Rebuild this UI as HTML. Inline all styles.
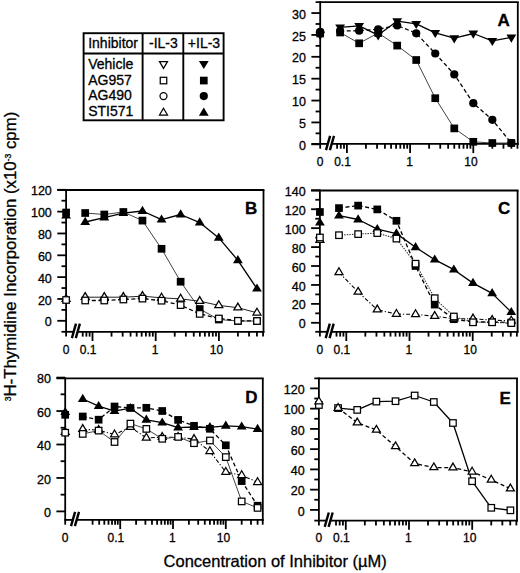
<!DOCTYPE html>
<html><head><meta charset="utf-8"><style>
html,body{margin:0;padding:0;background:#fff;}
svg{display:block;}
text{font-family:"Liberation Sans", sans-serif;fill:#000;stroke:#000;stroke-width:0.3px;}
</style></head><body>
<svg width="520" height="573" viewBox="0 0 520 573">
<rect width="520" height="573" fill="#fff"/>
<line x1="320.20" y1="1.20" x2="320.20" y2="148.70" stroke="#000" stroke-width="1.8" />
<line x1="315.60" y1="2.10" x2="518.70" y2="2.10" stroke="#000" stroke-width="1.8" />
<line x1="517.80" y1="2.10" x2="517.80" y2="144.80" stroke="#000" stroke-width="1.8" />
<line x1="311.40" y1="143.90" x2="327.80" y2="143.90" stroke="#000" stroke-width="1.8" />
<line x1="331.70" y1="143.90" x2="518.70" y2="143.90" stroke="#000" stroke-width="1.8" />
<line x1="311.40" y1="144.30" x2="320.20" y2="144.30" stroke="#000" stroke-width="1.8" />
<text x="305.90" y="149.90" font-size="12.5" text-anchor="end" font-weight="normal" >0</text>
<line x1="311.40" y1="122.43" x2="320.20" y2="122.43" stroke="#000" stroke-width="1.8" />
<text x="305.90" y="128.03" font-size="12.5" text-anchor="end" font-weight="normal" >5</text>
<line x1="311.40" y1="100.55" x2="320.20" y2="100.55" stroke="#000" stroke-width="1.8" />
<text x="305.90" y="106.15" font-size="12.5" text-anchor="end" font-weight="normal" >10</text>
<line x1="311.40" y1="78.68" x2="320.20" y2="78.68" stroke="#000" stroke-width="1.8" />
<text x="305.90" y="84.28" font-size="12.5" text-anchor="end" font-weight="normal" >15</text>
<line x1="311.40" y1="56.80" x2="320.20" y2="56.80" stroke="#000" stroke-width="1.8" />
<text x="305.90" y="62.40" font-size="12.5" text-anchor="end" font-weight="normal" >20</text>
<line x1="311.40" y1="34.93" x2="320.20" y2="34.93" stroke="#000" stroke-width="1.8" />
<text x="305.90" y="40.53" font-size="12.5" text-anchor="end" font-weight="normal" >25</text>
<line x1="311.40" y1="13.05" x2="320.20" y2="13.05" stroke="#000" stroke-width="1.8" />
<text x="305.90" y="18.65" font-size="12.5" text-anchor="end" font-weight="normal" >30</text>
<line x1="315.60" y1="133.36" x2="320.20" y2="133.36" stroke="#000" stroke-width="1.8" />
<line x1="315.60" y1="111.49" x2="320.20" y2="111.49" stroke="#000" stroke-width="1.8" />
<line x1="315.60" y1="89.61" x2="320.20" y2="89.61" stroke="#000" stroke-width="1.8" />
<line x1="315.60" y1="67.74" x2="320.20" y2="67.74" stroke="#000" stroke-width="1.8" />
<line x1="315.60" y1="45.86" x2="320.20" y2="45.86" stroke="#000" stroke-width="1.8" />
<line x1="315.60" y1="23.99" x2="320.20" y2="23.99" stroke="#000" stroke-width="1.8" />
<line x1="337.11" y1="143.90" x2="337.11" y2="148.70" stroke="#000" stroke-width="1.8" />
<line x1="340.78" y1="143.90" x2="340.78" y2="148.70" stroke="#000" stroke-width="1.8" />
<line x1="344.01" y1="143.90" x2="344.01" y2="148.70" stroke="#000" stroke-width="1.8" />
<line x1="346.90" y1="143.90" x2="346.90" y2="153.10" stroke="#000" stroke-width="1.8" />
<line x1="365.93" y1="143.90" x2="365.93" y2="148.70" stroke="#000" stroke-width="1.8" />
<line x1="377.05" y1="143.90" x2="377.05" y2="148.70" stroke="#000" stroke-width="1.8" />
<line x1="384.95" y1="143.90" x2="384.95" y2="148.70" stroke="#000" stroke-width="1.8" />
<line x1="391.07" y1="143.90" x2="391.07" y2="148.70" stroke="#000" stroke-width="1.8" />
<line x1="396.08" y1="143.90" x2="396.08" y2="148.70" stroke="#000" stroke-width="1.8" />
<line x1="400.31" y1="143.90" x2="400.31" y2="148.70" stroke="#000" stroke-width="1.8" />
<line x1="403.98" y1="143.90" x2="403.98" y2="148.70" stroke="#000" stroke-width="1.8" />
<line x1="407.21" y1="143.90" x2="407.21" y2="148.70" stroke="#000" stroke-width="1.8" />
<line x1="410.10" y1="143.90" x2="410.10" y2="153.10" stroke="#000" stroke-width="1.8" />
<line x1="429.13" y1="143.90" x2="429.13" y2="148.70" stroke="#000" stroke-width="1.8" />
<line x1="440.25" y1="143.90" x2="440.25" y2="148.70" stroke="#000" stroke-width="1.8" />
<line x1="448.15" y1="143.90" x2="448.15" y2="148.70" stroke="#000" stroke-width="1.8" />
<line x1="454.27" y1="143.90" x2="454.27" y2="148.70" stroke="#000" stroke-width="1.8" />
<line x1="459.28" y1="143.90" x2="459.28" y2="148.70" stroke="#000" stroke-width="1.8" />
<line x1="463.51" y1="143.90" x2="463.51" y2="148.70" stroke="#000" stroke-width="1.8" />
<line x1="467.18" y1="143.90" x2="467.18" y2="148.70" stroke="#000" stroke-width="1.8" />
<line x1="470.41" y1="143.90" x2="470.41" y2="148.70" stroke="#000" stroke-width="1.8" />
<line x1="473.30" y1="143.90" x2="473.30" y2="153.10" stroke="#000" stroke-width="1.8" />
<line x1="492.33" y1="143.90" x2="492.33" y2="148.70" stroke="#000" stroke-width="1.8" />
<line x1="503.45" y1="143.90" x2="503.45" y2="148.70" stroke="#000" stroke-width="1.8" />
<line x1="511.35" y1="143.90" x2="511.35" y2="148.70" stroke="#000" stroke-width="1.8" />
<line x1="517.47" y1="143.90" x2="517.47" y2="148.70" stroke="#000" stroke-width="1.8" />
<line x1="326.00" y1="150.20" x2="330.10" y2="135.80" stroke="#000" stroke-width="2.4" />
<line x1="329.90" y1="150.20" x2="334.00" y2="135.80" stroke="#000" stroke-width="2.4" />
<text x="320.20" y="165.70" font-size="12" text-anchor="middle" font-weight="normal" >0</text>
<text x="342.50" y="165.70" font-size="12" text-anchor="middle" font-weight="normal" >0.1</text>
<text x="409.50" y="165.70" font-size="12" text-anchor="middle" font-weight="normal" >1</text>
<text x="470.90" y="165.70" font-size="12" text-anchor="middle" font-weight="normal" >10</text>
<text x="497.60" y="25.80" font-size="17" text-anchor="start" font-weight="bold" >A</text>
<line x1="66.10" y1="189.10" x2="66.10" y2="336.60" stroke="#000" stroke-width="1.8" />
<line x1="57.30" y1="190.00" x2="264.40" y2="190.00" stroke="#000" stroke-width="1.8" />
<line x1="263.50" y1="190.00" x2="263.50" y2="332.70" stroke="#000" stroke-width="1.8" />
<line x1="61.50" y1="331.80" x2="73.70" y2="331.80" stroke="#000" stroke-width="1.8" />
<line x1="77.60" y1="331.80" x2="264.40" y2="331.80" stroke="#000" stroke-width="1.8" />
<line x1="57.30" y1="320.80" x2="66.10" y2="320.80" stroke="#000" stroke-width="1.8" />
<text x="51.80" y="326.40" font-size="12.5" text-anchor="end" font-weight="normal" >0</text>
<line x1="57.30" y1="298.97" x2="66.10" y2="298.97" stroke="#000" stroke-width="1.8" />
<text x="51.80" y="304.57" font-size="12.5" text-anchor="end" font-weight="normal" >20</text>
<line x1="57.30" y1="277.13" x2="66.10" y2="277.13" stroke="#000" stroke-width="1.8" />
<text x="51.80" y="282.73" font-size="12.5" text-anchor="end" font-weight="normal" >40</text>
<line x1="57.30" y1="255.30" x2="66.10" y2="255.30" stroke="#000" stroke-width="1.8" />
<text x="51.80" y="260.90" font-size="12.5" text-anchor="end" font-weight="normal" >60</text>
<line x1="57.30" y1="233.46" x2="66.10" y2="233.46" stroke="#000" stroke-width="1.8" />
<text x="51.80" y="239.06" font-size="12.5" text-anchor="end" font-weight="normal" >80</text>
<line x1="57.30" y1="211.63" x2="66.10" y2="211.63" stroke="#000" stroke-width="1.8" />
<text x="51.80" y="217.23" font-size="12.5" text-anchor="end" font-weight="normal" >100</text>
<line x1="57.30" y1="189.80" x2="66.10" y2="189.80" stroke="#000" stroke-width="1.8" />
<text x="51.80" y="195.40" font-size="12.5" text-anchor="end" font-weight="normal" >120</text>
<line x1="61.50" y1="309.88" x2="66.10" y2="309.88" stroke="#000" stroke-width="1.8" />
<line x1="61.50" y1="288.05" x2="66.10" y2="288.05" stroke="#000" stroke-width="1.8" />
<line x1="61.50" y1="266.22" x2="66.10" y2="266.22" stroke="#000" stroke-width="1.8" />
<line x1="61.50" y1="244.38" x2="66.10" y2="244.38" stroke="#000" stroke-width="1.8" />
<line x1="61.50" y1="222.55" x2="66.10" y2="222.55" stroke="#000" stroke-width="1.8" />
<line x1="61.50" y1="200.71" x2="66.10" y2="200.71" stroke="#000" stroke-width="1.8" />
<line x1="82.71" y1="331.80" x2="82.71" y2="336.60" stroke="#000" stroke-width="1.8" />
<line x1="86.38" y1="331.80" x2="86.38" y2="336.60" stroke="#000" stroke-width="1.8" />
<line x1="89.61" y1="331.80" x2="89.61" y2="336.60" stroke="#000" stroke-width="1.8" />
<line x1="92.50" y1="331.80" x2="92.50" y2="341.00" stroke="#000" stroke-width="1.8" />
<line x1="111.53" y1="331.80" x2="111.53" y2="336.60" stroke="#000" stroke-width="1.8" />
<line x1="122.65" y1="331.80" x2="122.65" y2="336.60" stroke="#000" stroke-width="1.8" />
<line x1="130.55" y1="331.80" x2="130.55" y2="336.60" stroke="#000" stroke-width="1.8" />
<line x1="136.67" y1="331.80" x2="136.67" y2="336.60" stroke="#000" stroke-width="1.8" />
<line x1="141.68" y1="331.80" x2="141.68" y2="336.60" stroke="#000" stroke-width="1.8" />
<line x1="145.91" y1="331.80" x2="145.91" y2="336.60" stroke="#000" stroke-width="1.8" />
<line x1="149.58" y1="331.80" x2="149.58" y2="336.60" stroke="#000" stroke-width="1.8" />
<line x1="152.81" y1="331.80" x2="152.81" y2="336.60" stroke="#000" stroke-width="1.8" />
<line x1="155.70" y1="331.80" x2="155.70" y2="341.00" stroke="#000" stroke-width="1.8" />
<line x1="174.73" y1="331.80" x2="174.73" y2="336.60" stroke="#000" stroke-width="1.8" />
<line x1="185.85" y1="331.80" x2="185.85" y2="336.60" stroke="#000" stroke-width="1.8" />
<line x1="193.75" y1="331.80" x2="193.75" y2="336.60" stroke="#000" stroke-width="1.8" />
<line x1="199.87" y1="331.80" x2="199.87" y2="336.60" stroke="#000" stroke-width="1.8" />
<line x1="204.88" y1="331.80" x2="204.88" y2="336.60" stroke="#000" stroke-width="1.8" />
<line x1="209.11" y1="331.80" x2="209.11" y2="336.60" stroke="#000" stroke-width="1.8" />
<line x1="212.78" y1="331.80" x2="212.78" y2="336.60" stroke="#000" stroke-width="1.8" />
<line x1="216.01" y1="331.80" x2="216.01" y2="336.60" stroke="#000" stroke-width="1.8" />
<line x1="218.90" y1="331.80" x2="218.90" y2="341.00" stroke="#000" stroke-width="1.8" />
<line x1="237.93" y1="331.80" x2="237.93" y2="336.60" stroke="#000" stroke-width="1.8" />
<line x1="249.05" y1="331.80" x2="249.05" y2="336.60" stroke="#000" stroke-width="1.8" />
<line x1="256.95" y1="331.80" x2="256.95" y2="336.60" stroke="#000" stroke-width="1.8" />
<line x1="263.07" y1="331.80" x2="263.07" y2="336.60" stroke="#000" stroke-width="1.8" />
<line x1="71.90" y1="338.10" x2="76.00" y2="323.70" stroke="#000" stroke-width="2.4" />
<line x1="75.80" y1="338.10" x2="79.90" y2="323.70" stroke="#000" stroke-width="2.4" />
<text x="66.10" y="353.60" font-size="12" text-anchor="middle" font-weight="normal" >0</text>
<text x="88.10" y="353.60" font-size="12" text-anchor="middle" font-weight="normal" >0.1</text>
<text x="155.10" y="353.60" font-size="12" text-anchor="middle" font-weight="normal" >1</text>
<text x="216.50" y="353.60" font-size="12" text-anchor="middle" font-weight="normal" >10</text>
<text x="245.00" y="214.20" font-size="17" text-anchor="start" font-weight="bold" >B</text>
<line x1="319.90" y1="189.60" x2="319.90" y2="336.60" stroke="#000" stroke-width="1.8" />
<line x1="311.10" y1="190.50" x2="518.50" y2="190.50" stroke="#000" stroke-width="1.8" />
<line x1="517.60" y1="190.50" x2="517.60" y2="332.70" stroke="#000" stroke-width="1.8" />
<line x1="315.30" y1="331.80" x2="327.50" y2="331.80" stroke="#000" stroke-width="1.8" />
<line x1="331.40" y1="331.80" x2="518.50" y2="331.80" stroke="#000" stroke-width="1.8" />
<line x1="311.10" y1="322.80" x2="319.90" y2="322.80" stroke="#000" stroke-width="1.8" />
<text x="305.60" y="328.40" font-size="12.5" text-anchor="end" font-weight="normal" >0</text>
<line x1="311.10" y1="303.87" x2="319.90" y2="303.87" stroke="#000" stroke-width="1.8" />
<text x="305.60" y="309.47" font-size="12.5" text-anchor="end" font-weight="normal" >20</text>
<line x1="311.10" y1="284.94" x2="319.90" y2="284.94" stroke="#000" stroke-width="1.8" />
<text x="305.60" y="290.54" font-size="12.5" text-anchor="end" font-weight="normal" >40</text>
<line x1="311.10" y1="266.02" x2="319.90" y2="266.02" stroke="#000" stroke-width="1.8" />
<text x="305.60" y="271.62" font-size="12.5" text-anchor="end" font-weight="normal" >60</text>
<line x1="311.10" y1="247.09" x2="319.90" y2="247.09" stroke="#000" stroke-width="1.8" />
<text x="305.60" y="252.69" font-size="12.5" text-anchor="end" font-weight="normal" >80</text>
<line x1="311.10" y1="228.16" x2="319.90" y2="228.16" stroke="#000" stroke-width="1.8" />
<text x="305.60" y="233.76" font-size="12.5" text-anchor="end" font-weight="normal" >100</text>
<line x1="311.10" y1="209.23" x2="319.90" y2="209.23" stroke="#000" stroke-width="1.8" />
<text x="305.60" y="214.83" font-size="12.5" text-anchor="end" font-weight="normal" >120</text>
<line x1="311.10" y1="190.30" x2="319.90" y2="190.30" stroke="#000" stroke-width="1.8" />
<text x="305.60" y="195.90" font-size="12.5" text-anchor="end" font-weight="normal" >140</text>
<line x1="315.30" y1="313.34" x2="319.90" y2="313.34" stroke="#000" stroke-width="1.8" />
<line x1="315.30" y1="294.41" x2="319.90" y2="294.41" stroke="#000" stroke-width="1.8" />
<line x1="315.30" y1="275.48" x2="319.90" y2="275.48" stroke="#000" stroke-width="1.8" />
<line x1="315.30" y1="256.55" x2="319.90" y2="256.55" stroke="#000" stroke-width="1.8" />
<line x1="315.30" y1="237.62" x2="319.90" y2="237.62" stroke="#000" stroke-width="1.8" />
<line x1="315.30" y1="218.70" x2="319.90" y2="218.70" stroke="#000" stroke-width="1.8" />
<line x1="315.30" y1="199.77" x2="319.90" y2="199.77" stroke="#000" stroke-width="1.8" />
<line x1="336.51" y1="331.80" x2="336.51" y2="336.60" stroke="#000" stroke-width="1.8" />
<line x1="340.18" y1="331.80" x2="340.18" y2="336.60" stroke="#000" stroke-width="1.8" />
<line x1="343.41" y1="331.80" x2="343.41" y2="336.60" stroke="#000" stroke-width="1.8" />
<line x1="346.30" y1="331.80" x2="346.30" y2="341.00" stroke="#000" stroke-width="1.8" />
<line x1="365.33" y1="331.80" x2="365.33" y2="336.60" stroke="#000" stroke-width="1.8" />
<line x1="376.45" y1="331.80" x2="376.45" y2="336.60" stroke="#000" stroke-width="1.8" />
<line x1="384.35" y1="331.80" x2="384.35" y2="336.60" stroke="#000" stroke-width="1.8" />
<line x1="390.47" y1="331.80" x2="390.47" y2="336.60" stroke="#000" stroke-width="1.8" />
<line x1="395.48" y1="331.80" x2="395.48" y2="336.60" stroke="#000" stroke-width="1.8" />
<line x1="399.71" y1="331.80" x2="399.71" y2="336.60" stroke="#000" stroke-width="1.8" />
<line x1="403.38" y1="331.80" x2="403.38" y2="336.60" stroke="#000" stroke-width="1.8" />
<line x1="406.61" y1="331.80" x2="406.61" y2="336.60" stroke="#000" stroke-width="1.8" />
<line x1="409.50" y1="331.80" x2="409.50" y2="341.00" stroke="#000" stroke-width="1.8" />
<line x1="428.53" y1="331.80" x2="428.53" y2="336.60" stroke="#000" stroke-width="1.8" />
<line x1="439.65" y1="331.80" x2="439.65" y2="336.60" stroke="#000" stroke-width="1.8" />
<line x1="447.55" y1="331.80" x2="447.55" y2="336.60" stroke="#000" stroke-width="1.8" />
<line x1="453.67" y1="331.80" x2="453.67" y2="336.60" stroke="#000" stroke-width="1.8" />
<line x1="458.68" y1="331.80" x2="458.68" y2="336.60" stroke="#000" stroke-width="1.8" />
<line x1="462.91" y1="331.80" x2="462.91" y2="336.60" stroke="#000" stroke-width="1.8" />
<line x1="466.58" y1="331.80" x2="466.58" y2="336.60" stroke="#000" stroke-width="1.8" />
<line x1="469.81" y1="331.80" x2="469.81" y2="336.60" stroke="#000" stroke-width="1.8" />
<line x1="472.70" y1="331.80" x2="472.70" y2="341.00" stroke="#000" stroke-width="1.8" />
<line x1="491.73" y1="331.80" x2="491.73" y2="336.60" stroke="#000" stroke-width="1.8" />
<line x1="502.85" y1="331.80" x2="502.85" y2="336.60" stroke="#000" stroke-width="1.8" />
<line x1="510.75" y1="331.80" x2="510.75" y2="336.60" stroke="#000" stroke-width="1.8" />
<line x1="516.87" y1="331.80" x2="516.87" y2="336.60" stroke="#000" stroke-width="1.8" />
<line x1="325.70" y1="338.10" x2="329.80" y2="323.70" stroke="#000" stroke-width="2.4" />
<line x1="329.60" y1="338.10" x2="333.70" y2="323.70" stroke="#000" stroke-width="2.4" />
<text x="319.90" y="353.60" font-size="12" text-anchor="middle" font-weight="normal" >0</text>
<text x="341.90" y="353.60" font-size="12" text-anchor="middle" font-weight="normal" >0.1</text>
<text x="408.90" y="353.60" font-size="12" text-anchor="middle" font-weight="normal" >1</text>
<text x="470.30" y="353.60" font-size="12" text-anchor="middle" font-weight="normal" >10</text>
<text x="498.00" y="214.20" font-size="17" text-anchor="start" font-weight="bold" >C</text>
<line x1="65.20" y1="377.40" x2="65.20" y2="524.70" stroke="#000" stroke-width="1.8" />
<line x1="56.40" y1="378.30" x2="263.70" y2="378.30" stroke="#000" stroke-width="1.8" />
<line x1="262.80" y1="378.30" x2="262.80" y2="520.80" stroke="#000" stroke-width="1.8" />
<line x1="64.30" y1="519.90" x2="72.80" y2="519.90" stroke="#000" stroke-width="1.8" />
<line x1="76.70" y1="519.90" x2="263.70" y2="519.90" stroke="#000" stroke-width="1.8" />
<line x1="56.40" y1="511.40" x2="65.20" y2="511.40" stroke="#000" stroke-width="1.8" />
<text x="50.90" y="517.00" font-size="12.5" text-anchor="end" font-weight="normal" >0</text>
<line x1="56.40" y1="477.95" x2="65.20" y2="477.95" stroke="#000" stroke-width="1.8" />
<text x="50.90" y="483.55" font-size="12.5" text-anchor="end" font-weight="normal" >20</text>
<line x1="56.40" y1="444.50" x2="65.20" y2="444.50" stroke="#000" stroke-width="1.8" />
<text x="50.90" y="450.10" font-size="12.5" text-anchor="end" font-weight="normal" >40</text>
<line x1="56.40" y1="411.05" x2="65.20" y2="411.05" stroke="#000" stroke-width="1.8" />
<text x="50.90" y="416.65" font-size="12.5" text-anchor="end" font-weight="normal" >60</text>
<line x1="56.40" y1="377.60" x2="65.20" y2="377.60" stroke="#000" stroke-width="1.8" />
<text x="50.90" y="383.20" font-size="12.5" text-anchor="end" font-weight="normal" >80</text>
<line x1="60.60" y1="494.67" x2="65.20" y2="494.67" stroke="#000" stroke-width="1.8" />
<line x1="60.60" y1="461.22" x2="65.20" y2="461.22" stroke="#000" stroke-width="1.8" />
<line x1="60.60" y1="427.77" x2="65.20" y2="427.77" stroke="#000" stroke-width="1.8" />
<line x1="60.60" y1="394.32" x2="65.20" y2="394.32" stroke="#000" stroke-width="1.8" />
<line x1="92.59" y1="519.90" x2="92.59" y2="524.70" stroke="#000" stroke-width="1.8" />
<line x1="99.19" y1="519.90" x2="99.19" y2="524.70" stroke="#000" stroke-width="1.8" />
<line x1="104.31" y1="519.90" x2="104.31" y2="524.70" stroke="#000" stroke-width="1.8" />
<line x1="108.49" y1="519.90" x2="108.49" y2="524.70" stroke="#000" stroke-width="1.8" />
<line x1="112.02" y1="519.90" x2="112.02" y2="524.70" stroke="#000" stroke-width="1.8" />
<line x1="115.08" y1="519.90" x2="115.08" y2="524.70" stroke="#000" stroke-width="1.8" />
<line x1="117.78" y1="519.90" x2="117.78" y2="524.70" stroke="#000" stroke-width="1.8" />
<line x1="120.20" y1="519.90" x2="120.20" y2="529.10" stroke="#000" stroke-width="1.8" />
<line x1="136.09" y1="519.90" x2="136.09" y2="524.70" stroke="#000" stroke-width="1.8" />
<line x1="145.39" y1="519.90" x2="145.39" y2="524.70" stroke="#000" stroke-width="1.8" />
<line x1="151.99" y1="519.90" x2="151.99" y2="524.70" stroke="#000" stroke-width="1.8" />
<line x1="157.11" y1="519.90" x2="157.11" y2="524.70" stroke="#000" stroke-width="1.8" />
<line x1="161.29" y1="519.90" x2="161.29" y2="524.70" stroke="#000" stroke-width="1.8" />
<line x1="164.82" y1="519.90" x2="164.82" y2="524.70" stroke="#000" stroke-width="1.8" />
<line x1="167.88" y1="519.90" x2="167.88" y2="524.70" stroke="#000" stroke-width="1.8" />
<line x1="170.58" y1="519.90" x2="170.58" y2="524.70" stroke="#000" stroke-width="1.8" />
<line x1="173.00" y1="519.90" x2="173.00" y2="529.10" stroke="#000" stroke-width="1.8" />
<line x1="188.89" y1="519.90" x2="188.89" y2="524.70" stroke="#000" stroke-width="1.8" />
<line x1="198.19" y1="519.90" x2="198.19" y2="524.70" stroke="#000" stroke-width="1.8" />
<line x1="204.79" y1="519.90" x2="204.79" y2="524.70" stroke="#000" stroke-width="1.8" />
<line x1="209.91" y1="519.90" x2="209.91" y2="524.70" stroke="#000" stroke-width="1.8" />
<line x1="214.09" y1="519.90" x2="214.09" y2="524.70" stroke="#000" stroke-width="1.8" />
<line x1="217.62" y1="519.90" x2="217.62" y2="524.70" stroke="#000" stroke-width="1.8" />
<line x1="220.68" y1="519.90" x2="220.68" y2="524.70" stroke="#000" stroke-width="1.8" />
<line x1="223.38" y1="519.90" x2="223.38" y2="524.70" stroke="#000" stroke-width="1.8" />
<line x1="225.80" y1="519.90" x2="225.80" y2="529.10" stroke="#000" stroke-width="1.8" />
<line x1="241.69" y1="519.90" x2="241.69" y2="524.70" stroke="#000" stroke-width="1.8" />
<line x1="250.99" y1="519.90" x2="250.99" y2="524.70" stroke="#000" stroke-width="1.8" />
<line x1="257.59" y1="519.90" x2="257.59" y2="524.70" stroke="#000" stroke-width="1.8" />
<line x1="262.71" y1="519.90" x2="262.71" y2="524.70" stroke="#000" stroke-width="1.8" />
<line x1="71.00" y1="526.20" x2="75.10" y2="511.80" stroke="#000" stroke-width="2.4" />
<line x1="74.90" y1="526.20" x2="79.00" y2="511.80" stroke="#000" stroke-width="2.4" />
<text x="65.20" y="541.70" font-size="12" text-anchor="middle" font-weight="normal" >0</text>
<text x="115.80" y="541.70" font-size="12" text-anchor="middle" font-weight="normal" >0.1</text>
<text x="172.40" y="541.70" font-size="12" text-anchor="middle" font-weight="normal" >1</text>
<text x="223.40" y="541.70" font-size="12" text-anchor="middle" font-weight="normal" >10</text>
<text x="245.30" y="403.10" font-size="17" text-anchor="start" font-weight="bold" >D</text>
<line x1="318.90" y1="377.40" x2="318.90" y2="525.40" stroke="#000" stroke-width="1.8" />
<line x1="314.30" y1="378.30" x2="517.90" y2="378.30" stroke="#000" stroke-width="1.8" />
<line x1="517.00" y1="378.30" x2="517.00" y2="521.50" stroke="#000" stroke-width="1.8" />
<line x1="314.30" y1="520.60" x2="326.50" y2="520.60" stroke="#000" stroke-width="1.8" />
<line x1="330.40" y1="520.60" x2="517.90" y2="520.60" stroke="#000" stroke-width="1.8" />
<line x1="310.10" y1="509.90" x2="318.90" y2="509.90" stroke="#000" stroke-width="1.8" />
<text x="304.60" y="515.50" font-size="12.5" text-anchor="end" font-weight="normal" >0</text>
<line x1="310.10" y1="489.65" x2="318.90" y2="489.65" stroke="#000" stroke-width="1.8" />
<text x="304.60" y="495.25" font-size="12.5" text-anchor="end" font-weight="normal" >20</text>
<line x1="310.10" y1="469.40" x2="318.90" y2="469.40" stroke="#000" stroke-width="1.8" />
<text x="304.60" y="475.00" font-size="12.5" text-anchor="end" font-weight="normal" >40</text>
<line x1="310.10" y1="449.15" x2="318.90" y2="449.15" stroke="#000" stroke-width="1.8" />
<text x="304.60" y="454.75" font-size="12.5" text-anchor="end" font-weight="normal" >60</text>
<line x1="310.10" y1="428.90" x2="318.90" y2="428.90" stroke="#000" stroke-width="1.8" />
<text x="304.60" y="434.50" font-size="12.5" text-anchor="end" font-weight="normal" >80</text>
<line x1="310.10" y1="408.65" x2="318.90" y2="408.65" stroke="#000" stroke-width="1.8" />
<text x="304.60" y="414.25" font-size="12.5" text-anchor="end" font-weight="normal" >100</text>
<line x1="310.10" y1="388.40" x2="318.90" y2="388.40" stroke="#000" stroke-width="1.8" />
<text x="304.60" y="394.00" font-size="12.5" text-anchor="end" font-weight="normal" >120</text>
<line x1="314.30" y1="499.77" x2="318.90" y2="499.77" stroke="#000" stroke-width="1.8" />
<line x1="314.30" y1="479.52" x2="318.90" y2="479.52" stroke="#000" stroke-width="1.8" />
<line x1="314.30" y1="459.27" x2="318.90" y2="459.27" stroke="#000" stroke-width="1.8" />
<line x1="314.30" y1="439.02" x2="318.90" y2="439.02" stroke="#000" stroke-width="1.8" />
<line x1="314.30" y1="418.77" x2="318.90" y2="418.77" stroke="#000" stroke-width="1.8" />
<line x1="314.30" y1="398.52" x2="318.90" y2="398.52" stroke="#000" stroke-width="1.8" />
<line x1="336.01" y1="520.60" x2="336.01" y2="525.40" stroke="#000" stroke-width="1.8" />
<line x1="339.68" y1="520.60" x2="339.68" y2="525.40" stroke="#000" stroke-width="1.8" />
<line x1="342.91" y1="520.60" x2="342.91" y2="525.40" stroke="#000" stroke-width="1.8" />
<line x1="345.80" y1="520.60" x2="345.80" y2="529.80" stroke="#000" stroke-width="1.8" />
<line x1="364.83" y1="520.60" x2="364.83" y2="525.40" stroke="#000" stroke-width="1.8" />
<line x1="375.95" y1="520.60" x2="375.95" y2="525.40" stroke="#000" stroke-width="1.8" />
<line x1="383.85" y1="520.60" x2="383.85" y2="525.40" stroke="#000" stroke-width="1.8" />
<line x1="389.97" y1="520.60" x2="389.97" y2="525.40" stroke="#000" stroke-width="1.8" />
<line x1="394.98" y1="520.60" x2="394.98" y2="525.40" stroke="#000" stroke-width="1.8" />
<line x1="399.21" y1="520.60" x2="399.21" y2="525.40" stroke="#000" stroke-width="1.8" />
<line x1="402.88" y1="520.60" x2="402.88" y2="525.40" stroke="#000" stroke-width="1.8" />
<line x1="406.11" y1="520.60" x2="406.11" y2="525.40" stroke="#000" stroke-width="1.8" />
<line x1="409.00" y1="520.60" x2="409.00" y2="529.80" stroke="#000" stroke-width="1.8" />
<line x1="428.03" y1="520.60" x2="428.03" y2="525.40" stroke="#000" stroke-width="1.8" />
<line x1="439.15" y1="520.60" x2="439.15" y2="525.40" stroke="#000" stroke-width="1.8" />
<line x1="447.05" y1="520.60" x2="447.05" y2="525.40" stroke="#000" stroke-width="1.8" />
<line x1="453.17" y1="520.60" x2="453.17" y2="525.40" stroke="#000" stroke-width="1.8" />
<line x1="458.18" y1="520.60" x2="458.18" y2="525.40" stroke="#000" stroke-width="1.8" />
<line x1="462.41" y1="520.60" x2="462.41" y2="525.40" stroke="#000" stroke-width="1.8" />
<line x1="466.08" y1="520.60" x2="466.08" y2="525.40" stroke="#000" stroke-width="1.8" />
<line x1="469.31" y1="520.60" x2="469.31" y2="525.40" stroke="#000" stroke-width="1.8" />
<line x1="472.20" y1="520.60" x2="472.20" y2="529.80" stroke="#000" stroke-width="1.8" />
<line x1="491.23" y1="520.60" x2="491.23" y2="525.40" stroke="#000" stroke-width="1.8" />
<line x1="502.35" y1="520.60" x2="502.35" y2="525.40" stroke="#000" stroke-width="1.8" />
<line x1="510.25" y1="520.60" x2="510.25" y2="525.40" stroke="#000" stroke-width="1.8" />
<line x1="516.37" y1="520.60" x2="516.37" y2="525.40" stroke="#000" stroke-width="1.8" />
<line x1="324.70" y1="526.90" x2="328.80" y2="512.50" stroke="#000" stroke-width="2.4" />
<line x1="328.60" y1="526.90" x2="332.70" y2="512.50" stroke="#000" stroke-width="2.4" />
<text x="318.90" y="542.40" font-size="12" text-anchor="middle" font-weight="normal" >0</text>
<text x="341.40" y="542.40" font-size="12" text-anchor="middle" font-weight="normal" >0.1</text>
<text x="408.40" y="542.40" font-size="12" text-anchor="middle" font-weight="normal" >1</text>
<text x="469.80" y="542.40" font-size="12" text-anchor="middle" font-weight="normal" >10</text>
<text x="499.50" y="404.20" font-size="17" text-anchor="start" font-weight="bold" >E</text>
<polyline points="340.12,27.30 359.15,25.80 378.17,35.10 397.20,21.10 416.22,23.80 435.25,32.80 454.27,38.10 473.30,33.50 492.33,40.80 511.35,37.40" fill="none" stroke="#000" stroke-width="1.3" stroke-linejoin="round"/>
<polyline points="340.12,32.50 359.15,43.30 378.17,33.00 397.20,45.60 416.22,60.00 435.25,98.20 454.27,128.40 473.30,141.80 492.33,143.00 511.35,143.00" fill="none" stroke="#444" stroke-width="1.0" stroke-linejoin="round"/>
<polyline points="340.12,31.00 359.15,30.70 378.17,29.30 397.20,25.50 416.22,33.30 435.25,53.50 454.27,74.40 473.30,103.20 492.33,119.80 511.35,143.00" fill="none" stroke="#000" stroke-width="1.3" stroke-dasharray="4,2.6" stroke-linejoin="round"/>
<polyline points="85.20,222.00 104.29,217.70 123.37,213.20 142.46,211.00 161.54,219.70 180.63,214.50 199.71,222.60 218.80,237.90 237.89,260.30 256.97,288.70" fill="none" stroke="#000" stroke-width="1.3" stroke-linejoin="round"/>
<polyline points="85.20,213.00 104.29,214.50 123.37,212.00 142.46,220.60 161.54,248.80 180.63,281.70 199.71,309.00 218.80,319.50 237.89,321.00 256.97,321.00" fill="none" stroke="#444" stroke-width="1.0" stroke-linejoin="round"/>
<polyline points="85.20,297.20 104.29,297.20 123.37,297.20 142.46,296.20 161.54,297.80 180.63,298.90 199.71,301.20 218.80,305.40 237.89,307.70 256.97,312.80" fill="none" stroke="#222" stroke-width="1.0" stroke-linejoin="round"/>
<polyline points="85.20,300.50 104.29,300.50 123.37,299.50 142.46,298.60 161.54,300.70 180.63,305.10 199.71,313.90 218.80,318.50 237.89,320.80 256.97,321.00" fill="none" stroke="#000" stroke-width="1.3" stroke-dasharray="4,2.6" stroke-linejoin="round"/>
<polyline points="338.98,215.70 358.13,219.50 377.27,229.20 396.42,233.60 415.56,247.30 434.71,259.70 453.85,269.70 473.00,283.10 492.15,293.40 511.29,312.20" fill="none" stroke="#000" stroke-width="1.3" stroke-linejoin="round"/>
<polyline points="338.98,208.10 358.13,205.60 377.27,209.40 396.42,220.80 415.56,266.00 434.71,304.60 453.85,319.20 473.00,322.00 492.15,322.00 511.29,322.50" fill="none" stroke="#000" stroke-width="1.3" stroke-dasharray="4,2.6" stroke-linejoin="round"/>
<polyline points="338.98,272.40 358.13,292.00 377.27,309.70 396.42,314.10 415.56,314.40 434.71,316.20 453.85,318.70 473.00,318.70 492.15,320.20 511.29,320.80" fill="none" stroke="#000" stroke-width="1.1" stroke-dasharray="4,2,1.2,2" stroke-linejoin="round"/>
<polyline points="338.98,235.20 358.13,234.10 377.27,233.10 396.42,238.60 415.56,263.70 434.71,298.20 453.85,316.50 473.00,322.30 492.15,322.30 511.29,323.10" fill="none" stroke="#333" stroke-width="1.1" stroke-dasharray="1.4,1.2" stroke-linejoin="round"/>
<polyline points="82.75,399.00 98.64,406.20 114.54,411.20 130.43,408.20 146.33,419.80 162.22,422.70 178.12,427.60 194.01,427.00 209.91,427.40 225.80,425.80 241.69,426.70 257.59,429.10" fill="none" stroke="#000" stroke-width="1.3" stroke-linejoin="round"/>
<polyline points="82.75,416.50 98.64,419.70 114.54,406.50 130.43,408.00 146.33,407.80 162.22,411.00 178.12,419.90 194.01,425.80 209.91,428.80 225.80,445.30 241.69,481.10 257.59,505.70" fill="none" stroke="#000" stroke-width="1.3" stroke-dasharray="4,2.6" stroke-linejoin="round"/>
<polyline points="82.75,429.20 98.64,430.20 114.54,434.60 130.43,427.20 146.33,437.90 162.22,437.20 178.12,437.20 194.01,439.20 209.91,451.30 225.80,472.10 241.69,475.30 257.59,482.30" fill="none" stroke="#000" stroke-width="1.1" stroke-dasharray="4,2,1.2,2" stroke-linejoin="round"/>
<polyline points="82.75,433.90 98.64,430.60 114.54,442.00 130.43,423.60 146.33,428.90 162.22,438.80 178.12,436.90 194.01,443.20 209.91,440.50 225.80,457.10 241.69,501.40 257.59,507.90" fill="none" stroke="#444" stroke-width="1.0" stroke-linejoin="round"/>
<polyline points="338.08,408.10 357.23,409.90 376.37,401.60 395.52,401.20 414.66,395.50 433.81,402.00 452.95,423.00 472.10,481.20 491.25,507.80 510.39,510.30" fill="none" stroke="#000" stroke-width="1.3" stroke-linejoin="round"/>
<polyline points="338.08,408.10 357.23,422.70 376.37,430.00 395.52,446.50 414.66,463.50 433.81,467.50 452.95,467.70 472.10,471.80 491.25,479.90 510.39,488.70" fill="none" stroke="#000" stroke-width="1.3" stroke-dasharray="4,2.6" stroke-linejoin="round"/>
<polygon points="320.20,39.90 325.10,31.70 315.30,31.70" fill="#000"/>
<polygon points="340.12,32.60 345.02,24.40 335.22,24.40" fill="#000"/>
<polygon points="359.15,31.10 364.05,22.90 354.25,22.90" fill="#000"/>
<polygon points="378.17,40.40 383.07,32.20 373.27,32.20" fill="#000"/>
<polygon points="397.20,26.40 402.10,18.20 392.30,18.20" fill="#000"/>
<polygon points="416.22,29.10 421.12,20.90 411.32,20.90" fill="#000"/>
<polygon points="435.25,38.10 440.15,29.90 430.35,29.90" fill="#000"/>
<polygon points="454.27,43.40 459.17,35.20 449.37,35.20" fill="#000"/>
<polygon points="473.30,38.80 478.20,30.60 468.40,30.60" fill="#000"/>
<polygon points="492.33,46.10 497.23,37.90 487.43,37.90" fill="#000"/>
<polygon points="511.35,42.70 516.25,34.50 506.45,34.50" fill="#000"/>
<rect x="316.35" y="29.65" width="7.7" height="7.7" fill="#000"/>
<rect x="336.27" y="28.65" width="7.7" height="7.7" fill="#000"/>
<rect x="355.30" y="39.45" width="7.7" height="7.7" fill="#000"/>
<rect x="374.32" y="29.15" width="7.7" height="7.7" fill="#000"/>
<rect x="393.35" y="41.75" width="7.7" height="7.7" fill="#000"/>
<rect x="412.37" y="56.15" width="7.7" height="7.7" fill="#000"/>
<rect x="431.40" y="94.35" width="7.7" height="7.7" fill="#000"/>
<rect x="450.42" y="124.55" width="7.7" height="7.7" fill="#000"/>
<rect x="469.45" y="137.95" width="7.7" height="7.7" fill="#000"/>
<rect x="488.48" y="139.15" width="7.7" height="7.7" fill="#000"/>
<rect x="507.50" y="139.15" width="7.7" height="7.7" fill="#000"/>
<circle cx="320.20" cy="31.80" r="4.1" fill="#000"/>
<circle cx="340.12" cy="31.00" r="4.1" fill="#000"/>
<circle cx="359.15" cy="30.70" r="4.1" fill="#000"/>
<circle cx="378.17" cy="29.30" r="4.1" fill="#000"/>
<circle cx="397.20" cy="25.50" r="4.1" fill="#000"/>
<circle cx="416.22" cy="33.30" r="4.1" fill="#000"/>
<circle cx="435.25" cy="53.50" r="4.1" fill="#000"/>
<circle cx="454.27" cy="74.40" r="4.1" fill="#000"/>
<circle cx="473.30" cy="103.20" r="4.1" fill="#000"/>
<circle cx="492.33" cy="119.80" r="4.1" fill="#000"/>
<circle cx="511.35" cy="143.00" r="4.1" fill="#000"/>
<polygon points="66.10,210.40 71.00,218.60 61.20,218.60" fill="#000"/>
<polygon points="85.20,216.70 90.10,224.90 80.30,224.90" fill="#000"/>
<polygon points="104.29,212.40 109.19,220.60 99.39,220.60" fill="#000"/>
<polygon points="123.37,207.90 128.27,216.10 118.47,216.10" fill="#000"/>
<polygon points="142.46,205.70 147.36,213.90 137.56,213.90" fill="#000"/>
<polygon points="161.54,214.40 166.44,222.60 156.64,222.60" fill="#000"/>
<polygon points="180.63,209.20 185.53,217.40 175.73,217.40" fill="#000"/>
<polygon points="199.71,217.30 204.61,225.50 194.81,225.50" fill="#000"/>
<polygon points="218.80,232.60 223.70,240.80 213.90,240.80" fill="#000"/>
<polygon points="237.89,255.00 242.79,263.20 232.99,263.20" fill="#000"/>
<polygon points="256.97,283.40 261.87,291.60 252.07,291.60" fill="#000"/>
<rect x="62.25" y="208.65" width="7.7" height="7.7" fill="#000"/>
<rect x="81.35" y="209.15" width="7.7" height="7.7" fill="#000"/>
<rect x="100.44" y="210.65" width="7.7" height="7.7" fill="#000"/>
<rect x="119.52" y="208.15" width="7.7" height="7.7" fill="#000"/>
<rect x="138.61" y="216.75" width="7.7" height="7.7" fill="#000"/>
<rect x="157.69" y="244.95" width="7.7" height="7.7" fill="#000"/>
<rect x="176.78" y="277.85" width="7.7" height="7.7" fill="#000"/>
<rect x="195.86" y="305.15" width="7.7" height="7.7" fill="#000"/>
<rect x="214.95" y="315.65" width="7.7" height="7.7" fill="#000"/>
<rect x="234.04" y="317.15" width="7.7" height="7.7" fill="#000"/>
<rect x="253.12" y="317.15" width="7.7" height="7.7" fill="#000"/>
<polygon points="66.10,294.60 70.10,301.40 62.10,301.40" fill="#fff" stroke="#000" stroke-width="1.25" stroke-linejoin="miter"/>
<polygon points="85.20,292.60 89.20,299.40 81.20,299.40" fill="#fff" stroke="#000" stroke-width="1.25" stroke-linejoin="miter"/>
<polygon points="104.29,292.60 108.29,299.40 100.29,299.40" fill="#fff" stroke="#000" stroke-width="1.25" stroke-linejoin="miter"/>
<polygon points="123.37,292.60 127.37,299.40 119.37,299.40" fill="#fff" stroke="#000" stroke-width="1.25" stroke-linejoin="miter"/>
<polygon points="142.46,291.60 146.46,298.40 138.46,298.40" fill="#fff" stroke="#000" stroke-width="1.25" stroke-linejoin="miter"/>
<polygon points="161.54,293.20 165.54,300.00 157.54,300.00" fill="#fff" stroke="#000" stroke-width="1.25" stroke-linejoin="miter"/>
<polygon points="180.63,294.30 184.63,301.10 176.63,301.10" fill="#fff" stroke="#000" stroke-width="1.25" stroke-linejoin="miter"/>
<polygon points="199.71,296.60 203.71,303.40 195.71,303.40" fill="#fff" stroke="#000" stroke-width="1.25" stroke-linejoin="miter"/>
<polygon points="218.80,300.80 222.80,307.60 214.80,307.60" fill="#fff" stroke="#000" stroke-width="1.25" stroke-linejoin="miter"/>
<polygon points="237.89,303.10 241.89,309.90 233.89,309.90" fill="#fff" stroke="#000" stroke-width="1.25" stroke-linejoin="miter"/>
<polygon points="256.97,308.20 260.97,315.00 252.97,315.00" fill="#fff" stroke="#000" stroke-width="1.25" stroke-linejoin="miter"/>
<rect x="62.85" y="296.75" width="6.5" height="6.5" fill="#fff" stroke="#000" stroke-width="1.25"/>
<rect x="81.95" y="297.25" width="6.5" height="6.5" fill="#fff" stroke="#000" stroke-width="1.25"/>
<rect x="101.04" y="297.25" width="6.5" height="6.5" fill="#fff" stroke="#000" stroke-width="1.25"/>
<rect x="120.12" y="296.25" width="6.5" height="6.5" fill="#fff" stroke="#000" stroke-width="1.25"/>
<rect x="139.21" y="295.35" width="6.5" height="6.5" fill="#fff" stroke="#000" stroke-width="1.25"/>
<rect x="158.29" y="297.45" width="6.5" height="6.5" fill="#fff" stroke="#000" stroke-width="1.25"/>
<rect x="177.38" y="301.85" width="6.5" height="6.5" fill="#fff" stroke="#000" stroke-width="1.25"/>
<rect x="196.46" y="310.65" width="6.5" height="6.5" fill="#fff" stroke="#000" stroke-width="1.25"/>
<rect x="215.55" y="315.25" width="6.5" height="6.5" fill="#fff" stroke="#000" stroke-width="1.25"/>
<rect x="234.64" y="317.55" width="6.5" height="6.5" fill="#fff" stroke="#000" stroke-width="1.25"/>
<rect x="253.72" y="317.75" width="6.5" height="6.5" fill="#fff" stroke="#000" stroke-width="1.25"/>
<polygon points="319.90,217.40 324.80,225.60 315.00,225.60" fill="#000"/>
<polygon points="338.98,210.40 343.88,218.60 334.08,218.60" fill="#000"/>
<polygon points="358.13,214.20 363.03,222.40 353.23,222.40" fill="#000"/>
<polygon points="377.27,223.90 382.17,232.10 372.37,232.10" fill="#000"/>
<polygon points="396.42,228.30 401.32,236.50 391.52,236.50" fill="#000"/>
<polygon points="415.56,242.00 420.46,250.20 410.66,250.20" fill="#000"/>
<polygon points="434.71,254.40 439.61,262.60 429.81,262.60" fill="#000"/>
<polygon points="453.85,264.40 458.75,272.60 448.95,272.60" fill="#000"/>
<polygon points="473.00,277.80 477.90,286.00 468.10,286.00" fill="#000"/>
<polygon points="492.15,288.10 497.05,296.30 487.25,296.30" fill="#000"/>
<polygon points="511.29,306.90 516.19,315.10 506.39,315.10" fill="#000"/>
<rect x="316.05" y="208.15" width="7.7" height="7.7" fill="#000"/>
<rect x="335.13" y="204.25" width="7.7" height="7.7" fill="#000"/>
<rect x="354.28" y="201.75" width="7.7" height="7.7" fill="#000"/>
<rect x="373.42" y="205.55" width="7.7" height="7.7" fill="#000"/>
<rect x="392.57" y="216.95" width="7.7" height="7.7" fill="#000"/>
<rect x="411.71" y="262.15" width="7.7" height="7.7" fill="#000"/>
<rect x="430.86" y="300.75" width="7.7" height="7.7" fill="#000"/>
<rect x="450.00" y="315.35" width="7.7" height="7.7" fill="#000"/>
<rect x="469.15" y="318.15" width="7.7" height="7.7" fill="#000"/>
<rect x="488.30" y="318.15" width="7.7" height="7.7" fill="#000"/>
<rect x="507.44" y="318.65" width="7.7" height="7.7" fill="#000"/>
<polygon points="319.90,235.60 323.90,242.40 315.90,242.40" fill="#fff" stroke="#000" stroke-width="1.25" stroke-linejoin="miter"/>
<polygon points="338.98,267.80 342.98,274.60 334.98,274.60" fill="#fff" stroke="#000" stroke-width="1.25" stroke-linejoin="miter"/>
<polygon points="358.13,287.40 362.13,294.20 354.13,294.20" fill="#fff" stroke="#000" stroke-width="1.25" stroke-linejoin="miter"/>
<polygon points="377.27,305.10 381.27,311.90 373.27,311.90" fill="#fff" stroke="#000" stroke-width="1.25" stroke-linejoin="miter"/>
<polygon points="396.42,309.50 400.42,316.30 392.42,316.30" fill="#fff" stroke="#000" stroke-width="1.25" stroke-linejoin="miter"/>
<polygon points="415.56,309.80 419.56,316.60 411.56,316.60" fill="#fff" stroke="#000" stroke-width="1.25" stroke-linejoin="miter"/>
<polygon points="434.71,311.60 438.71,318.40 430.71,318.40" fill="#fff" stroke="#000" stroke-width="1.25" stroke-linejoin="miter"/>
<polygon points="453.85,314.10 457.85,320.90 449.85,320.90" fill="#fff" stroke="#000" stroke-width="1.25" stroke-linejoin="miter"/>
<polygon points="473.00,314.10 477.00,320.90 469.00,320.90" fill="#fff" stroke="#000" stroke-width="1.25" stroke-linejoin="miter"/>
<polygon points="492.15,315.60 496.15,322.40 488.15,322.40" fill="#fff" stroke="#000" stroke-width="1.25" stroke-linejoin="miter"/>
<polygon points="511.29,316.20 515.29,323.00 507.29,323.00" fill="#fff" stroke="#000" stroke-width="1.25" stroke-linejoin="miter"/>
<rect x="316.65" y="234.25" width="6.5" height="6.5" fill="#fff" stroke="#000" stroke-width="1.25"/>
<rect x="335.73" y="231.95" width="6.5" height="6.5" fill="#fff" stroke="#000" stroke-width="1.25"/>
<rect x="354.88" y="230.85" width="6.5" height="6.5" fill="#fff" stroke="#000" stroke-width="1.25"/>
<rect x="374.02" y="229.85" width="6.5" height="6.5" fill="#fff" stroke="#000" stroke-width="1.25"/>
<rect x="393.17" y="235.35" width="6.5" height="6.5" fill="#fff" stroke="#000" stroke-width="1.25"/>
<rect x="412.31" y="260.45" width="6.5" height="6.5" fill="#fff" stroke="#000" stroke-width="1.25"/>
<rect x="431.46" y="294.95" width="6.5" height="6.5" fill="#fff" stroke="#000" stroke-width="1.25"/>
<rect x="450.60" y="313.25" width="6.5" height="6.5" fill="#fff" stroke="#000" stroke-width="1.25"/>
<rect x="469.75" y="319.05" width="6.5" height="6.5" fill="#fff" stroke="#000" stroke-width="1.25"/>
<rect x="488.90" y="319.05" width="6.5" height="6.5" fill="#fff" stroke="#000" stroke-width="1.25"/>
<rect x="508.04" y="319.85" width="6.5" height="6.5" fill="#fff" stroke="#000" stroke-width="1.25"/>
<polygon points="65.20,406.90 70.10,415.10 60.30,415.10" fill="#000"/>
<polygon points="82.75,393.70 87.65,401.90 77.85,401.90" fill="#000"/>
<polygon points="98.64,400.90 103.54,409.10 93.74,409.10" fill="#000"/>
<polygon points="114.54,405.90 119.44,414.10 109.64,414.10" fill="#000"/>
<polygon points="130.43,402.90 135.33,411.10 125.53,411.10" fill="#000"/>
<polygon points="146.33,414.50 151.23,422.70 141.43,422.70" fill="#000"/>
<polygon points="162.22,417.40 167.12,425.60 157.32,425.60" fill="#000"/>
<polygon points="178.12,422.30 183.02,430.50 173.22,430.50" fill="#000"/>
<polygon points="194.01,421.70 198.91,429.90 189.11,429.90" fill="#000"/>
<polygon points="209.91,422.10 214.81,430.30 205.01,430.30" fill="#000"/>
<polygon points="225.80,420.50 230.70,428.70 220.90,428.70" fill="#000"/>
<polygon points="241.69,421.40 246.59,429.60 236.79,429.60" fill="#000"/>
<polygon points="257.59,423.80 262.49,432.00 252.69,432.00" fill="#000"/>
<rect x="61.35" y="410.95" width="7.7" height="7.7" fill="#000"/>
<rect x="78.90" y="412.65" width="7.7" height="7.7" fill="#000"/>
<rect x="94.79" y="415.85" width="7.7" height="7.7" fill="#000"/>
<rect x="110.69" y="402.65" width="7.7" height="7.7" fill="#000"/>
<rect x="126.58" y="404.15" width="7.7" height="7.7" fill="#000"/>
<rect x="142.48" y="403.95" width="7.7" height="7.7" fill="#000"/>
<rect x="158.37" y="407.15" width="7.7" height="7.7" fill="#000"/>
<rect x="174.27" y="416.05" width="7.7" height="7.7" fill="#000"/>
<rect x="190.16" y="421.95" width="7.7" height="7.7" fill="#000"/>
<rect x="206.06" y="424.95" width="7.7" height="7.7" fill="#000"/>
<rect x="221.95" y="441.45" width="7.7" height="7.7" fill="#000"/>
<rect x="237.84" y="477.25" width="7.7" height="7.7" fill="#000"/>
<rect x="253.74" y="501.85" width="7.7" height="7.7" fill="#000"/>
<polygon points="65.20,427.60 69.20,434.40 61.20,434.40" fill="#fff" stroke="#000" stroke-width="1.25" stroke-linejoin="miter"/>
<polygon points="82.75,424.60 86.75,431.40 78.75,431.40" fill="#fff" stroke="#000" stroke-width="1.25" stroke-linejoin="miter"/>
<polygon points="98.64,425.60 102.64,432.40 94.64,432.40" fill="#fff" stroke="#000" stroke-width="1.25" stroke-linejoin="miter"/>
<polygon points="114.54,430.00 118.54,436.80 110.54,436.80" fill="#fff" stroke="#000" stroke-width="1.25" stroke-linejoin="miter"/>
<polygon points="130.43,422.60 134.43,429.40 126.43,429.40" fill="#fff" stroke="#000" stroke-width="1.25" stroke-linejoin="miter"/>
<polygon points="146.33,433.30 150.33,440.10 142.33,440.10" fill="#fff" stroke="#000" stroke-width="1.25" stroke-linejoin="miter"/>
<polygon points="162.22,432.60 166.22,439.40 158.22,439.40" fill="#fff" stroke="#000" stroke-width="1.25" stroke-linejoin="miter"/>
<polygon points="178.12,432.60 182.12,439.40 174.12,439.40" fill="#fff" stroke="#000" stroke-width="1.25" stroke-linejoin="miter"/>
<polygon points="194.01,434.60 198.01,441.40 190.01,441.40" fill="#fff" stroke="#000" stroke-width="1.25" stroke-linejoin="miter"/>
<polygon points="209.91,446.70 213.91,453.50 205.91,453.50" fill="#fff" stroke="#000" stroke-width="1.25" stroke-linejoin="miter"/>
<polygon points="225.80,467.50 229.80,474.30 221.80,474.30" fill="#fff" stroke="#000" stroke-width="1.25" stroke-linejoin="miter"/>
<polygon points="241.69,470.70 245.69,477.50 237.69,477.50" fill="#fff" stroke="#000" stroke-width="1.25" stroke-linejoin="miter"/>
<polygon points="257.59,477.70 261.59,484.50 253.59,484.50" fill="#fff" stroke="#000" stroke-width="1.25" stroke-linejoin="miter"/>
<rect x="61.95" y="429.45" width="6.5" height="6.5" fill="#fff" stroke="#000" stroke-width="1.25"/>
<rect x="79.50" y="430.65" width="6.5" height="6.5" fill="#fff" stroke="#000" stroke-width="1.25"/>
<rect x="95.39" y="427.35" width="6.5" height="6.5" fill="#fff" stroke="#000" stroke-width="1.25"/>
<rect x="111.29" y="438.75" width="6.5" height="6.5" fill="#fff" stroke="#000" stroke-width="1.25"/>
<rect x="127.18" y="420.35" width="6.5" height="6.5" fill="#fff" stroke="#000" stroke-width="1.25"/>
<rect x="143.08" y="425.65" width="6.5" height="6.5" fill="#fff" stroke="#000" stroke-width="1.25"/>
<rect x="158.97" y="435.55" width="6.5" height="6.5" fill="#fff" stroke="#000" stroke-width="1.25"/>
<rect x="174.87" y="433.65" width="6.5" height="6.5" fill="#fff" stroke="#000" stroke-width="1.25"/>
<rect x="190.76" y="439.95" width="6.5" height="6.5" fill="#fff" stroke="#000" stroke-width="1.25"/>
<rect x="206.66" y="437.25" width="6.5" height="6.5" fill="#fff" stroke="#000" stroke-width="1.25"/>
<rect x="222.55" y="453.85" width="6.5" height="6.5" fill="#fff" stroke="#000" stroke-width="1.25"/>
<rect x="238.44" y="498.15" width="6.5" height="6.5" fill="#fff" stroke="#000" stroke-width="1.25"/>
<rect x="254.34" y="504.65" width="6.5" height="6.5" fill="#fff" stroke="#000" stroke-width="1.25"/>
<rect x="315.65" y="401.75" width="6.5" height="6.5" fill="#fff" stroke="#000" stroke-width="1.25"/>
<rect x="334.83" y="404.85" width="6.5" height="6.5" fill="#fff" stroke="#000" stroke-width="1.25"/>
<rect x="353.98" y="406.65" width="6.5" height="6.5" fill="#fff" stroke="#000" stroke-width="1.25"/>
<rect x="373.12" y="398.35" width="6.5" height="6.5" fill="#fff" stroke="#000" stroke-width="1.25"/>
<rect x="392.27" y="397.95" width="6.5" height="6.5" fill="#fff" stroke="#000" stroke-width="1.25"/>
<rect x="411.41" y="392.25" width="6.5" height="6.5" fill="#fff" stroke="#000" stroke-width="1.25"/>
<rect x="430.56" y="398.75" width="6.5" height="6.5" fill="#fff" stroke="#000" stroke-width="1.25"/>
<rect x="449.70" y="419.75" width="6.5" height="6.5" fill="#fff" stroke="#000" stroke-width="1.25"/>
<rect x="468.85" y="477.95" width="6.5" height="6.5" fill="#fff" stroke="#000" stroke-width="1.25"/>
<rect x="488.00" y="504.55" width="6.5" height="6.5" fill="#fff" stroke="#000" stroke-width="1.25"/>
<rect x="507.14" y="507.05" width="6.5" height="6.5" fill="#fff" stroke="#000" stroke-width="1.25"/>
<polygon points="318.90,397.00 322.90,403.80 314.90,403.80" fill="#fff" stroke="#000" stroke-width="1.25" stroke-linejoin="miter"/>
<polygon points="338.08,403.50 342.08,410.30 334.08,410.30" fill="#fff" stroke="#000" stroke-width="1.25" stroke-linejoin="miter"/>
<polygon points="357.23,418.10 361.23,424.90 353.23,424.90" fill="#fff" stroke="#000" stroke-width="1.25" stroke-linejoin="miter"/>
<polygon points="376.37,425.40 380.37,432.20 372.37,432.20" fill="#fff" stroke="#000" stroke-width="1.25" stroke-linejoin="miter"/>
<polygon points="395.52,441.90 399.52,448.70 391.52,448.70" fill="#fff" stroke="#000" stroke-width="1.25" stroke-linejoin="miter"/>
<polygon points="414.66,458.90 418.66,465.70 410.66,465.70" fill="#fff" stroke="#000" stroke-width="1.25" stroke-linejoin="miter"/>
<polygon points="433.81,462.90 437.81,469.70 429.81,469.70" fill="#fff" stroke="#000" stroke-width="1.25" stroke-linejoin="miter"/>
<polygon points="452.95,463.10 456.95,469.90 448.95,469.90" fill="#fff" stroke="#000" stroke-width="1.25" stroke-linejoin="miter"/>
<polygon points="472.10,467.20 476.10,474.00 468.10,474.00" fill="#fff" stroke="#000" stroke-width="1.25" stroke-linejoin="miter"/>
<polygon points="491.25,475.30 495.25,482.10 487.25,482.10" fill="#fff" stroke="#000" stroke-width="1.25" stroke-linejoin="miter"/>
<polygon points="510.39,484.10 514.39,490.90 506.39,490.90" fill="#fff" stroke="#000" stroke-width="1.25" stroke-linejoin="miter"/>
<rect x="83.6" y="33.2" width="140.0" height="87.1" fill="none" stroke="#000" stroke-width="1.9"/>
<line x1="83.60" y1="53.50" x2="223.60" y2="53.50" stroke="#000" stroke-width="1.9" />
<line x1="142.60" y1="33.20" x2="142.60" y2="120.30" stroke="#000" stroke-width="1.9" />
<line x1="183.30" y1="33.20" x2="183.30" y2="120.30" stroke="#000" stroke-width="1.9" />
<text x="88.20" y="47.60" font-size="14" text-anchor="start" font-weight="normal" >Inhibitor</text>
<text x="163.40" y="47.60" font-size="14" text-anchor="middle" font-weight="normal" >-IL-3</text>
<text x="204.00" y="47.60" font-size="14" text-anchor="middle" font-weight="normal" >+IL-3</text>
<text x="88.20" y="69.20" font-size="14" text-anchor="start" font-weight="normal" >Vehicle</text>
<polygon points="163.50,68.40 167.50,61.60 159.50,61.60" fill="#fff" stroke="#000" stroke-width="1.25" stroke-linejoin="miter"/>
<polygon points="203.80,69.10 208.70,60.90 198.90,60.90" fill="#000"/>
<text x="88.20" y="84.75" font-size="14" text-anchor="start" font-weight="normal" >AG957</text>
<rect x="160.25" y="77.30" width="6.5" height="6.5" fill="#fff" stroke="#000" stroke-width="1.25"/>
<rect x="199.95" y="76.70" width="7.7" height="7.7" fill="#000"/>
<text x="88.20" y="100.30" font-size="14" text-anchor="start" font-weight="normal" >AG490</text>
<circle cx="163.50" cy="96.10" r="3.5" fill="#fff" stroke="#000" stroke-width="1.25"/>
<circle cx="203.80" cy="96.10" r="4.1" fill="#000"/>
<text x="88.20" y="115.85" font-size="14" text-anchor="start" font-weight="normal" >STI571</text>
<polygon points="163.50,108.25 167.50,115.05 159.50,115.05" fill="#fff" stroke="#000" stroke-width="1.25" stroke-linejoin="miter"/>
<polygon points="203.80,107.55 208.70,115.75 198.90,115.75" fill="#000"/>
<text x="0" y="0" font-size="16.5" text-anchor="start" transform="translate(163.6,567)">Concentration of Inhibitor (µM)</text>
<text font-size="16.8" text-anchor="middle" transform="translate(16.2,256.5) rotate(-90)"><tspan font-size="8.6" dy="-5.6">3</tspan><tspan dy="5.6">H-Thymidine Incorporation (x10</tspan><tspan font-size="8.6" dy="-5.6">-3</tspan><tspan dy="5.6"> cpm)</tspan></text>
</svg>
</body></html>
